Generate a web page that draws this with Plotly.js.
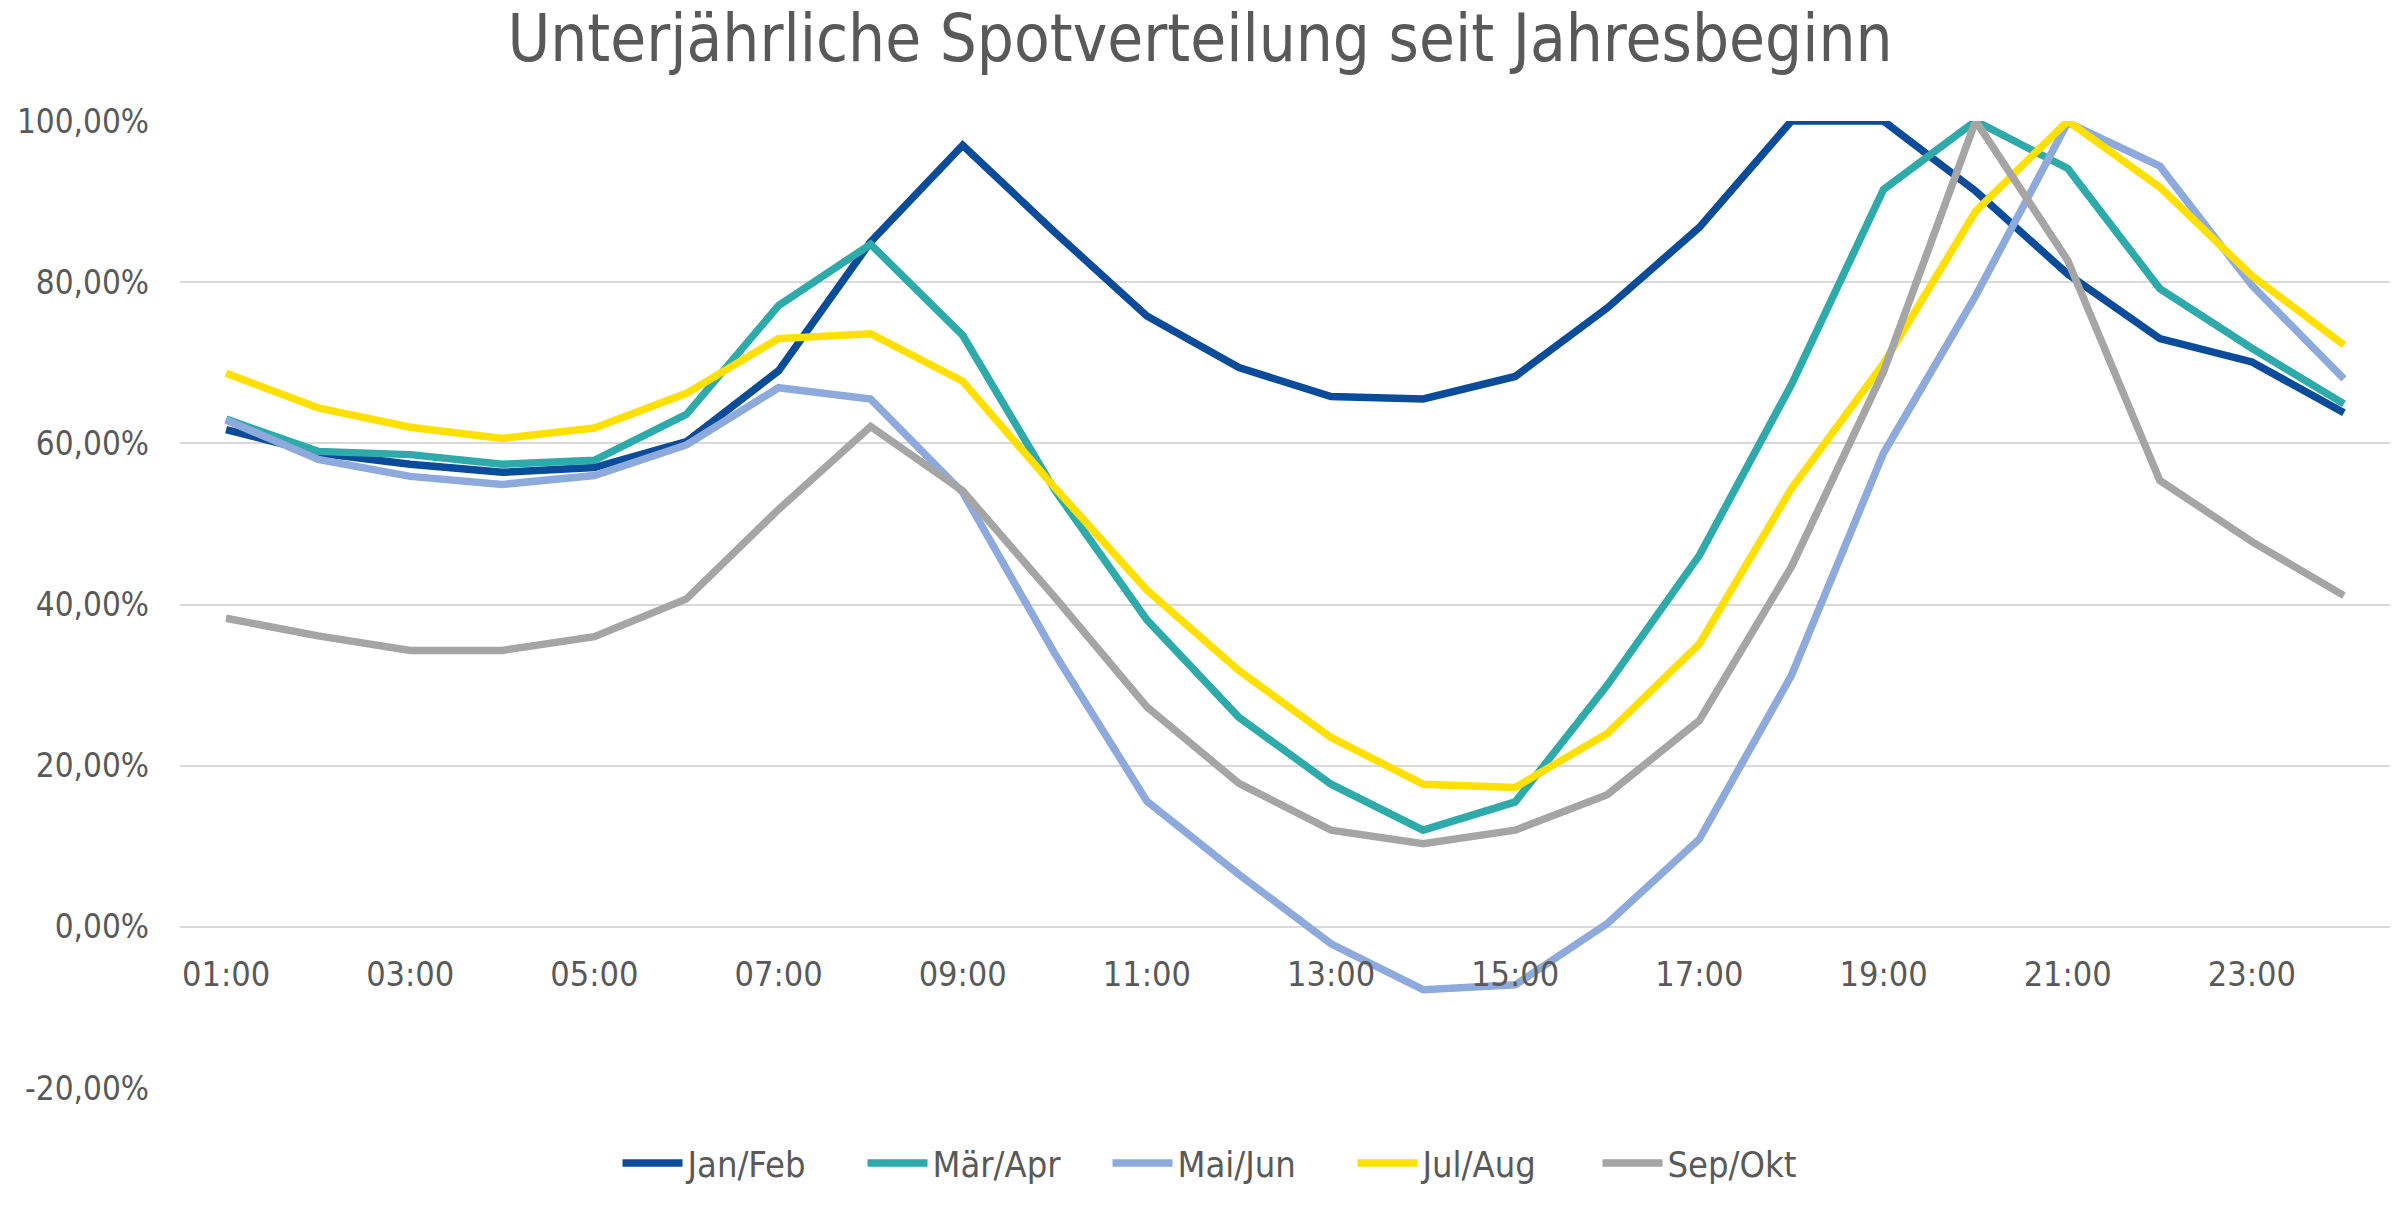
<!DOCTYPE html>
<html>
<head>
<meta charset="utf-8">
<script src="https://cdn.plot.ly/plotly-3.0.1.min.js"></script>
<style>
  html, body { margin: 0; padding: 0; background: #fff; }
  #chart { width: 2400px; height: 1209px; }
</style>
</head>
<body>
<div id="chart"></div>
<script>
let hours = ["01:00", "02:00", "03:00", "04:00", "05:00", "06:00", "07:00", "08:00",
             "09:00", "10:00", "11:00", "12:00", "13:00", "14:00", "15:00", "16:00",
             "17:00", "18:00", "19:00", "20:00", "21:00", "22:00", "23:00", "24:00"];

// values in percent
let jan_feb = [61.7, 58.8, 57.4, 56.4, 57.0, 60.2, 69.0, 85.0, 97.0, 86.2, 75.8, 69.4,
               65.8, 65.5, 68.3, 76.8, 86.8, 100, 100, 91.3, 81.0, 73.0, 70.1, 63.8];
let maer_apr = [63.0, 59.0, 58.6, 57.4, 57.9, 63.6, 77.1, 84.7, 73.4, 54.2, 38.1, 26.0,
                17.7, 12.0, 15.5, 30.0, 46.1, 67.3, 91.5, 100, 94.1, 79.2, 71.8, 64.9];
let mai_jun = [62.9, 58.0, 55.9, 54.9, 56.0, 59.8, 66.9, 65.5, 53.9, 33.9, 15.6, 6.5,
               -2.1, -7.8, -7.2, 0.4, 10.9, 31.2, 58.8, 78.3, 99.8, 94.4, 79.6, 68.0];
let jul_aug = [68.7, 64.4, 62.0, 60.6, 61.9, 66.2, 73.0, 73.6, 67.7, 54.5, 41.8, 31.8,
               23.5, 17.7, 17.3, 24.0, 35.1, 54.4, 69.9, 88.8, 100, 91.8, 80.8, 72.2];
let sep_okt = [38.3, 36.1, 34.3, 34.3, 36.0, 40.7, 51.8, 62.1, 54.1, 40.9, 27.3, 17.8,
               12.0, 10.3, 12.0, 16.4, 25.6, 44.7, 68.9, 100, 82.7, 55.4, 47.8, 41.1];

let series_names = ["Jan/Feb", "Mär/Apr", "Mai/Jun", "Jul/Aug", "Sep/Okt"];
let series_values = [jan_feb, maer_apr, mai_jun, jul_aug, sep_okt];
let series_colors = ["#0A4C9A", "#2EAAAA", "#8EAADC", "#FFE000", "#A5A5A5"];

let y_ticks = [-20, 0, 20, 40, 60, 80, 100];
let y_labels = ["-20,00%", "0,00%", "20,00%", "40,00%", "60,00%", "80,00%", "100,00%"];
let y_min = -20;
let y_max = 100;

let font_family = "'DejaVu Sans Condensed', 'Liberation Sans Narrow', 'DejaVu Sans', sans-serif";
let text_color = "#595959";

let data = [];
for (let i = 0; i < series_names.length; ++i) {
    data.push({
        x: hours,
        y: series_values[i],
        mode: 'lines',
        name: series_names[i],
        line: { color: series_colors[i], width: 7.5 },
        hoverinfo: 'skip'
    });
}

// category labels sit on the zero line, like the Excel original
let zero_pos = (0 - y_min) / (y_max - y_min);

let layout = {
    width: 2400,
    height: 1209,
    paper_bgcolor: '#ffffff',
    plot_bgcolor: '#ffffff',
    margin: { l: 180, r: 10, t: 121, b: 121 },
    font: { family: font_family, color: text_color, size: 32 },
    title: {
        text: 'Unterjährliche Spotverteilung seit Jahresbeginn',
        font: { family: font_family, size: 65, color: text_color },
        x: 0.5,
        xanchor: 'center',
        y: 1 - 38 / 1209,
        yanchor: 'middle',
        yref: 'container'
    },
    xaxis: {
        type: 'category',
        tickvals: hours.filter((h, i) => i % 2 === 0),
        showgrid: false,
        zeroline: false,
        showline: false,
        ticks: '',
        anchor: 'free',
        position: zero_pos,
        ticklabelstandoff: 24,
        tickfont: { size: 34, color: text_color },
        range: [-0.5, hours.length - 0.5]
    },
    yaxis: {
        range: [y_min, y_max],
        tickvals: y_ticks,
        ticktext: y_labels,
        showgrid: true,
        gridcolor: '#D9D9D9',
        gridwidth: 2,
        zeroline: false,
        showline: false,
        ticks: '',
        ticklabelstandoff: 30,
        tickfont: { size: 33, color: text_color }
    },
    showlegend: true,
    legend: {
        orientation: 'h',
        xref: 'container',
        yref: 'container',
        x: 0.5 + 30 / 2400,
        xanchor: 'center',
        y: 1 - 1163 / 1209,
        yanchor: 'middle',
        font: { size: 36, color: text_color },
        itemwidth: 60,
        entrywidth: 170,
        traceorder: 'normal'
    }
};

Plotly.newPlot('chart', data, layout, { staticPlot: true });
</script>
</body>
</html>
